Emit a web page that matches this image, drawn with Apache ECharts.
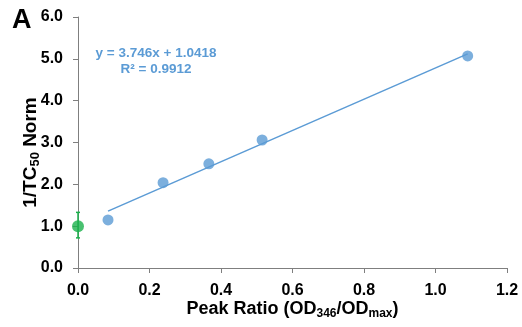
<!DOCTYPE html>
<html><head><meta charset="utf-8">
<script src="https://cdn.jsdelivr.net/npm/echarts@6/dist/echarts.min.js"></script>
<style>html,body{margin:0;padding:0;background:#fff}#c{width:522px;height:327px}</style>
</head><body><div id="c"></div>
<script>
const peakRatio = [0.084, 0.238, 0.366, 0.515, 1.09];
const tcNorm = [1.15, 2.04, 2.49, 3.06, 5.07];
const controlPoint = [0, 1.0];
const controlErr = [0.72, 1.33];
const fitLine = [[0.084, 1.36], [1.09, 5.12]];
const eqText = ['y = 3.746x + 1.0418', 'R² = 0.9912'];

const chart = echarts.init(document.getElementById('c'));
const blue = '#5B9BD5', green = '#1BB14C', axisCol = '#7f7f7f';
const ff = 'Liberation Sans';
chart.setOption({
  animation: false,
  grid: {left: 78, right: 15, top: 17, bottom: 59, containLabel: false, outerBoundsMode: 'none'},
  title: [{text: 'A', left: 7, top: 2, textStyle: {fontSize: 27, fontWeight: 'bold', color: '#000', fontFamily: ff}},
          {text: eqText[0] + '\n' + eqText[1], left: 151, top: 40, textAlign: 'center',
           textStyle: {fontSize: 13.5, fontWeight: 'bold', color: blue, lineHeight: 16, fontFamily: ff, align: 'center'}}],
  xAxis: {type: 'value', min: 0, max: 1.2, interval: 0.2, nameMoveOverlap: false,
    axisLine: {lineStyle: {color: axisCol}}, axisTick: {show: true, length: 5, lineStyle: {color: axisCol}},
    splitLine: {show: false},
    axisLabel: {formatter: v => v.toFixed(1), fontSize: 16, fontWeight: 'bold', color: '#000', fontFamily: ff, margin: 15},
    name: '{b|Peak Ratio (OD}{s|346}{b|/OD}{s|max}{b|)}', nameLocation: 'middle', nameGap: 31,
    nameTextStyle: {rich: {b: {fontSize: 18, fontWeight: 'bold', color: '#000', fontFamily: ff},
                           s: {fontSize: 12, fontWeight: 'bold', color: '#000', fontFamily: ff, verticalAlign: 'bottom', padding: [9, 0, 0, 0]}}}
  },
  yAxis: {type: 'value', min: 0, max: 6, interval: 1, nameMoveOverlap: false,
    axisLine: {show: true, lineStyle: {color: axisCol}}, axisTick: {show: true, length: 5, lineStyle: {color: axisCol}},
    splitLine: {show: false},
    axisLabel: {formatter: v => v.toFixed(1), fontSize: 16, fontWeight: 'bold', color: '#000', fontFamily: ff, margin: 15},
    name: '{b|1/TC}{s|50}{b| Norm}', nameLocation: 'middle', nameGap: 36,
    nameTextStyle: {padding: [0, 20, 0, 0], rich: {b: {fontSize: 19, fontWeight: 'bold', color: '#000', fontFamily: ff},
                           s: {fontSize: 13, fontWeight: 'bold', color: '#000', fontFamily: ff, verticalAlign: 'bottom', padding: [9, 0, 0, 0]}}}
  },
  series: [
    {type: 'line', data: fitLine, symbol: 'none', lineStyle: {color: blue, width: 1.5}, z: 2},
    {type: 'scatter', data: peakRatio.map((x, i) => [x, tcNorm[i]]), symbolSize: 11, itemStyle: {color: blue}, z: 3},
    {type: 'custom', z: 3, data: [[controlPoint[0], controlErr[0], controlErr[1]]],
      renderItem: (params, api) => {
        const lo = api.coord([api.value(0), api.value(1)]);
        const hi = api.coord([api.value(0), api.value(2)]);
        const st = {stroke: green, lineWidth: 1.5};
        return {type: 'group', children: [
          {type: 'line', shape: {x1: lo[0], y1: lo[1], x2: hi[0], y2: hi[1]}, style: st},
          {type: 'line', shape: {x1: lo[0]-2, y1: lo[1], x2: lo[0]+2, y2: lo[1]}, style: st},
          {type: 'line', shape: {x1: hi[0]-2, y1: hi[1], x2: hi[0]+2, y2: hi[1]}, style: st}
        ]};
      }},
    {type: 'scatter', data: [controlPoint], symbolSize: 12, itemStyle: {color: green}, z: 4}
  ]
});
</script></body></html>
